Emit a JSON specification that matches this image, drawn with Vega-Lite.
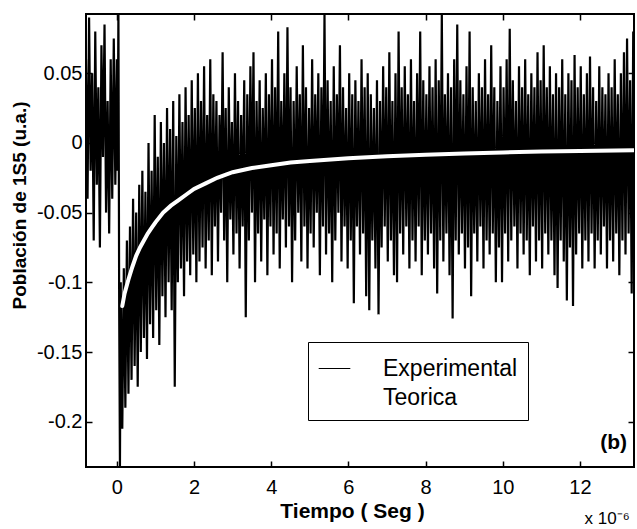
{
"$schema":"https://vega.github.io/schema/vega-lite/v6.json",
"width":548,"height":453,
"autosize":{"type":"none"},
"padding":{"left":86,"top":14,"right":3,"bottom":62},
"title":{"text":"x 10⁻⁶","orient":"bottom","anchor":"end","offset":-10,"dx":-5,"fontSize":17,"fontWeight":"normal","font":"Liberation Sans","color":"black","baseline":"top"},
"config":{"view":{"stroke":"black","strokeWidth":2},"font":"Liberation Sans"},
"datasets":{
"exp":[
{"t":-0.80,"p":0.06},{"t":-0.76,"p":-0.04},{"t":-0.72,"p":0.09},{"t":-0.68,"p":-0.02},{"t":-0.64,"p":0.05},{"t":-0.60,"p":-0.07},{"t":-0.56,"p":0.08},{"t":-0.52,"p":-0.03},{"t":-0.48,"p":0.04},{"t":-0.44,"p":-0.075},{"t":-0.40,"p":0.07},{"t":-0.36,"p":-0.01},{"t":-0.32,"p":0.085},{"t":-0.28,"p":-0.05},{"t":-0.24,"p":0.03},{"t":-0.20,"p":-0.065},{"t":-0.16,"p":0.06},{"t":-0.12,"p":-0.04},{"t":-0.08,"p":0.075},{"t":-0.04,"p":-0.03},{"t":0.00,"p":0.06},{"t":0.02,"p":-0.02},{"t":0.04,"p":0.095},{"t":0.06,"p":-0.12},{"t":0.08,"p":-0.232},
{"t":0.10,"p":-0.10},{"t":0.14,"p":-0.205},{"t":0.18,"p":-0.09},{"t":0.22,"p":-0.19},{"t":0.26,"p":-0.07},{"t":0.30,"p":-0.18},{"t":0.34,"p":-0.06},{"t":0.38,"p":-0.17},{"t":0.42,"p":-0.04},{"t":0.46,"p":-0.16},{"t":0.50,"p":-0.05},{"t":0.54,"p":-0.175},{"t":0.58,"p":-0.03},{"t":0.62,"p":-0.15},{"t":0.66,"p":-0.02},{"t":0.70,"p":-0.14},{"t":0.74,"p":-0.035},{"t":0.78,"p":-0.155},{"t":0.82,"p":0.0},{"t":0.86,"p":-0.13},{"t":0.90,"p":-0.02},{"t":0.94,"p":-0.14},{"t":0.98,"p":0.02},{"t":1.02,"p":-0.12},{"t":1.06,"p":-0.01},{"t":1.10,"p":-0.145},{"t":1.14,"p":0.015},{"t":1.18,"p":-0.11},{"t":1.22,"p":0.0},{"t":1.26,"p":-0.125},{"t":1.30,"p":0.025},{"t":1.34,"p":-0.10},{"t":1.38,"p":0.01},{"t":1.42,"p":-0.12},{"t":1.46,"p":0.03},{"t":1.50,"p":-0.175},{"t":1.54,"p":0.005},{"t":1.58,"p":-0.10},{"t":1.62,"p":0.035},{"t":1.66,"p":-0.09},{"t":1.70,"p":0.015},{"t":1.74,"p":-0.11},{"t":1.78,"p":0.04},{"t":1.82,"p":-0.085},{"t":1.86,"p":0.02},{"t":1.90,"p":-0.095},{"t":1.94,"p":0.045},{"t":1.98,"p":-0.08},{"t":2.02,"p":0.025},{"t":2.06,"p":-0.10},{"t":2.10,"p":0.05},{"t":2.14,"p":-0.085},{"t":2.18,"p":0.03},{"t":2.22,"p":-0.075},{"t":2.26,"p":0.055},{"t":2.30,"p":-0.09},{"t":2.34,"p":0.02},{"t":2.38,"p":-0.07},{"t":2.42,"p":0.06},{"t":2.46,"p":-0.095},{"t":2.50,"p":0.035},
{"t":2.54,"p":-0.06},{"t":2.58,"p":0.03},{"t":2.62,"p":-0.085},{"t":2.66,"p":0.02},{"t":2.70,"p":-0.05},{"t":2.74,"p":0.065},{"t":2.78,"p":-0.07},{"t":2.82,"p":0.025},{"t":2.86,"p":-0.1},{"t":2.90,"p":0.04},{"t":2.94,"p":-0.055},{"t":2.98,"p":0.015},{"t":3.02,"p":-0.08},{"t":3.06,"p":0.05},{"t":3.10,"p":-0.065},{"t":3.14,"p":0.03},{"t":3.18,"p":-0.09},{"t":3.22,"p":0.02},{"t":3.26,"p":-0.06},{"t":3.30,"p":0.045},{"t":3.34,"p":-0.125},{"t":3.38,"p":0.035},{"t":3.42,"p":-0.07},{"t":3.46,"p":0.055},{"t":3.50,"p":-0.05},{"t":3.54,"p":0.065},{"t":3.58,"p":-0.1},{"t":3.62,"p":0.03},{"t":3.66,"p":-0.065},{"t":3.70,"p":0.045},{"t":3.74,"p":-0.085},{"t":3.78,"p":0.025},{"t":3.82,"p":-0.055},{"t":3.86,"p":0.05},{"t":3.90,"p":-0.095},{"t":3.94,"p":0.035},{"t":3.98,"p":-0.06},{"t":4.02,"p":0.06},{"t":4.06,"p":-0.08},{"t":4.10,"p":0.04},{"t":4.14,"p":-0.065},{"t":4.18,"p":0.08},{"t":4.22,"p":-0.09},{"t":4.26,"p":0.03},{"t":4.30,"p":-0.055},{"t":4.34,"p":0.05},{"t":4.38,"p":-0.075},{"t":4.42,"p":0.083},{"t":4.46,"p":-0.06},{"t":4.50,"p":0.04},{"t":4.54,"p":-0.1},{"t":4.58,"p":0.03},{"t":4.62,"p":-0.07},{"t":4.66,"p":0.055},{"t":4.70,"p":-0.05},{"t":4.74,"p":0.035},{"t":4.78,"p":-0.085},{"t":4.82,"p":0.07},{"t":4.86,"p":-0.06},{"t":4.90,"p":0.04},{"t":4.94,"p":-0.09},{"t":4.98,"p":0.025},
{"t":5.02,"p":-0.065},{"t":5.06,"p":0.06},{"t":5.10,"p":-0.075},{"t":5.14,"p":0.035},{"t":5.18,"p":-0.05},{"t":5.22,"p":0.05},{"t":5.26,"p":-0.095},{"t":5.30,"p":0.04},{"t":5.34,"p":-0.06},{"t":5.38,"p":0.093},{"t":5.42,"p":-0.08},{"t":5.46,"p":0.045},{"t":5.50,"p":-0.065},{"t":5.54,"p":0.03},{"t":5.58,"p":-0.1},{"t":5.62,"p":0.055},{"t":5.66,"p":-0.07},{"t":5.70,"p":0.035},{"t":5.74,"p":-0.05},{"t":5.78,"p":0.07},{"t":5.82,"p":-0.085},{"t":5.86,"p":0.04},{"t":5.90,"p":-0.06},{"t":5.94,"p":0.025},{"t":5.98,"p":-0.09},{"t":6.02,"p":0.05},{"t":6.06,"p":-0.07},{"t":6.10,"p":0.035},{"t":6.14,"p":-0.115},{"t":6.18,"p":0.045},{"t":6.22,"p":-0.06},{"t":6.26,"p":0.03},{"t":6.30,"p":-0.08},{"t":6.34,"p":0.06},{"t":6.38,"p":-0.065},{"t":6.42,"p":0.04},{"t":6.46,"p":-0.11},{"t":6.50,"p":0.05},{"t":6.54,"p":-0.12},{"t":6.58,"p":0.035},{"t":6.62,"p":-0.07},{"t":6.66,"p":0.025},{"t":6.70,"p":-0.09},{"t":6.74,"p":0.045},{"t":6.78,"p":-0.123},{"t":6.82,"p":0.03},{"t":6.86,"p":-0.075},{"t":6.90,"p":0.055},{"t":6.94,"p":-0.06},{"t":6.98,"p":0.04},
{"t":7.02,"p":-0.085},{"t":7.06,"p":0.065},{"t":7.10,"p":-0.07},{"t":7.14,"p":0.03},{"t":7.18,"p":-0.095},{"t":7.22,"p":0.05},{"t":7.26,"p":-0.1},{"t":7.30,"p":0.08},{"t":7.34,"p":-0.065},{"t":7.38,"p":0.04},{"t":7.42,"p":-0.08},{"t":7.46,"p":0.055},{"t":7.50,"p":-0.06},{"t":7.54,"p":0.035},{"t":7.58,"p":-0.09},{"t":7.62,"p":0.06},{"t":7.66,"p":-0.07},{"t":7.70,"p":0.03},{"t":7.74,"p":-0.085},{"t":7.78,"p":0.05},{"t":7.82,"p":-0.06},{"t":7.86,"p":0.08},{"t":7.90,"p":-0.095},{"t":7.94,"p":0.045},{"t":7.98,"p":-0.07},{"t":8.02,"p":0.035},{"t":8.06,"p":-0.08},{"t":8.10,"p":0.055},{"t":8.14,"p":-0.065},{"t":8.18,"p":0.04},{"t":8.22,"p":-0.09},{"t":8.26,"p":0.06},{"t":8.30,"p":-0.108},{"t":8.34,"p":0.045},{"t":8.38,"p":-0.07},{"t":8.42,"p":0.093},{"t":8.46,"p":-0.085},{"t":8.50,"p":0.035},{"t":8.54,"p":-0.065},{"t":8.58,"p":0.05},{"t":8.62,"p":-0.095},{"t":8.66,"p":0.04},{"t":8.70,"p":-0.126},{"t":8.74,"p":0.06},{"t":8.78,"p":-0.07},{"t":8.82,"p":0.085},{"t":8.86,"p":-0.08},{"t":8.90,"p":0.045},{"t":8.94,"p":-0.065},{"t":8.98,"p":0.035},
{"t":9.02,"p":-0.09},{"t":9.06,"p":0.055},{"t":9.10,"p":-0.075},{"t":9.14,"p":0.08},{"t":9.18,"p":-0.11},{"t":9.22,"p":0.04},{"t":9.26,"p":-0.065},{"t":9.30,"p":0.03},{"t":9.34,"p":-0.085},{"t":9.38,"p":0.05},{"t":9.42,"p":-0.06},{"t":9.46,"p":0.04},{"t":9.50,"p":-0.09},{"t":9.54,"p":0.06},{"t":9.58,"p":-0.07},{"t":9.62,"p":0.035},{"t":9.66,"p":-0.08},{"t":9.70,"p":0.07},{"t":9.74,"p":-0.065},{"t":9.78,"p":0.04},{"t":9.82,"p":-0.1},{"t":9.86,"p":0.03},{"t":9.90,"p":-0.075},{"t":9.94,"p":0.055},{"t":9.98,"p":-0.1},
{"t":10.02,"p":0.04},{"t":10.06,"p":-0.065},{"t":10.10,"p":0.06},{"t":10.14,"p":-0.085},{"t":10.18,"p":0.082},{"t":10.22,"p":-0.07},{"t":10.26,"p":0.045},{"t":10.30,"p":-0.06},{"t":10.34,"p":0.03},{"t":10.38,"p":-0.09},{"t":10.42,"p":0.055},{"t":10.46,"p":-0.065},{"t":10.50,"p":0.04},{"t":10.54,"p":-0.08},{"t":10.58,"p":0.06},{"t":10.62,"p":-0.07},{"t":10.66,"p":0.035},{"t":10.70,"p":-0.095},{"t":10.74,"p":0.05},{"t":10.78,"p":-0.06},{"t":10.82,"p":0.04},{"t":10.86,"p":-0.085},{"t":10.90,"p":0.065},{"t":10.94,"p":-0.07},{"t":10.98,"p":0.045},
{"t":11.02,"p":-0.09},{"t":11.06,"p":0.07},{"t":11.10,"p":-0.065},{"t":11.14,"p":0.04},{"t":11.18,"p":-0.08},{"t":11.22,"p":0.055},{"t":11.26,"p":-0.07},{"t":11.30,"p":0.035},{"t":11.34,"p":-0.095},{"t":11.38,"p":0.05},{"t":11.42,"p":-0.104},{"t":11.46,"p":0.04},{"t":11.50,"p":-0.07},{"t":11.54,"p":0.06},{"t":11.58,"p":-0.085},{"t":11.62,"p":0.035},{"t":11.66,"p":-0.113},{"t":11.70,"p":0.05},{"t":11.74,"p":-0.075},{"t":11.78,"p":0.045},{"t":11.82,"p":-0.117},{"t":11.86,"p":0.063},{"t":11.90,"p":-0.08},{"t":11.94,"p":0.04},{"t":11.98,"p":-0.065},
{"t":12.02,"p":0.055},{"t":12.06,"p":-0.09},{"t":12.10,"p":0.035},{"t":12.14,"p":-0.07},{"t":12.18,"p":0.05},{"t":12.22,"p":-0.085},{"t":12.26,"p":0.062},{"t":12.30,"p":-0.065},{"t":12.34,"p":0.04},{"t":12.38,"p":-0.09},{"t":12.42,"p":0.03},{"t":12.46,"p":-0.07},{"t":12.50,"p":0.055},{"t":12.54,"p":-0.08},{"t":12.58,"p":0.04},{"t":12.62,"p":-0.06},{"t":12.66,"p":0.035},{"t":12.70,"p":-0.09},{"t":12.74,"p":0.05},{"t":12.78,"p":-0.07},{"t":12.82,"p":0.04},{"t":12.86,"p":-0.085},{"t":12.90,"p":0.06},{"t":12.94,"p":-0.065},{"t":12.98,"p":0.035},
{"t":13.02,"p":-0.095},{"t":13.06,"p":0.05},{"t":13.10,"p":-0.07},{"t":13.14,"p":0.065},{"t":13.18,"p":-0.08},{"t":13.22,"p":0.075},{"t":13.26,"p":-0.065},{"t":13.30,"p":0.045},{"t":13.34,"p":-0.108},{"t":13.38,"p":0.08},{"t":13.42,"p":-0.07}
],
"teo":[
{"t":0.14,"p":-0.117},{"t":0.2,"p":-0.108},{"t":0.3,"p":-0.098},{"t":0.4,"p":-0.089},{"t":0.5,"p":-0.081},{"t":0.6,"p":-0.075},{"t":0.7,"p":-0.07},{"t":0.8,"p":-0.065},{"t":0.9,"p":-0.061},{"t":1.0,"p":-0.057},{"t":1.2,"p":-0.05},{"t":1.4,"p":-0.045},{"t":1.6,"p":-0.041},{"t":1.8,"p":-0.037},{"t":2.0,"p":-0.033},{"t":2.3,"p":-0.029},{"t":2.6,"p":-0.025},{"t":3.0,"p":-0.021},{"t":3.5,"p":-0.018},{"t":4.0,"p":-0.016},{"t":4.5,"p":-0.014},{"t":5.0,"p":-0.013},{"t":6.0,"p":-0.011},{"t":7.0,"p":-0.0095},{"t":8.0,"p":-0.0085},{"t":9.0,"p":-0.0075},{"t":10.0,"p":-0.0068},{"t":11.0,"p":-0.0062},{"t":12.0,"p":-0.0057},{"t":13.4,"p":-0.0052}
]
},
"layer":[
{"data":{"name":"exp"},
 "mark":{"type":"line","clip":true,"strokeWidth":2.2},
 "encoding":{
  "x":{"field":"t","type":"quantitative","scale":{"domain":[-0.8,13.4],"nice":false,"zero":false},
   "axis":{"orient":"bottom","values":[0,2,4,6,8,10,12],"grid":false,"domain":false,"tickSize":-6,"tickWidth":1.5,"tickColor":"black","labelPadding":16,"labelFontSize":20,"labelColor":"black","labelFont":"Liberation Sans","title":"Tiempo ( Seg )","titleFontSize":21,"titleFontWeight":"bold","titleColor":"black","titleFont":"Liberation Sans","titleX":266,"titleY":44,"titleBaseline":"middle","titleAlign":"center"}},
  "y":{"field":"p","type":"quantitative","scale":{"domain":[-0.2325,0.0925],"nice":false,"zero":false},
   "axis":{"orient":"left","values":[-0.2,-0.15,-0.1,-0.05,0,0.05],"labelExpr":"'' + datum.value","grid":false,"domain":false,"tickSize":-6,"tickWidth":1.5,"tickColor":"black","labelPadding":10,"labelFontSize":20,"labelColor":"black","labelFont":"Liberation Sans","title":"Población de 1S5 (u.a.)","titleFontSize":19,"titleFontWeight":"bold","titleColor":"black","titleFont":"Liberation Sans","titleX":-57,"titleY":191,"titleAngle":-90,"titleBaseline":"bottom","titleAlign":"center"}},
  "color":{"datum":"Experimental","type":"nominal","scale":{"domain":["Experimental","Teorica"],"range":["black","white"]},
   "legend":{"orient":"none","legendX":222,"legendY":328,"title":null,"strokeColor":"black","fillColor":"white","padding":10,"labelFontSize":23,"labelFont":"Liberation Sans","labelColor":"black","symbolType":"stroke","symbolSize":1000,"symbolStrokeWidth":1.2,"labelOffset":32,"rowPadding":-4}}
 }},
{"data":{"name":"teo"},
 "mark":{"type":"line","clip":true,"strokeWidth":4,"strokeCap":"round"},
 "encoding":{
  "x":{"field":"t","type":"quantitative","axis":{"orient":"top","values":[0,2,4,6,8,10,12],"labels":false,"title":null,"grid":false,"domain":false,"tickSize":-6,"tickWidth":1.5,"tickColor":"black"}},
  "y":{"field":"p","type":"quantitative","axis":{"orient":"right","values":[-0.2,-0.15,-0.1,-0.05,0,0.05],"labels":false,"title":null,"grid":false,"domain":false,"tickSize":-6,"tickWidth":1.5,"tickColor":"black"}},
  "color":{"datum":"Teorica","type":"nominal"}
 }},
{"data":{"values":[{"lab":"(b)"}]},
 "mark":{"type":"text","align":"right","baseline":"middle","fontSize":21,"fontWeight":"bold","font":"Liberation Sans","color":"black"},
 "encoding":{
  "x":{"datum":13.22,"type":"quantitative","axis":null},
  "y":{"datum":-0.2155,"type":"quantitative","axis":null},
  "text":{"field":"lab"}
 }}
],
"resolve":{"axis":{"x":"independent","y":"independent"}}
}
